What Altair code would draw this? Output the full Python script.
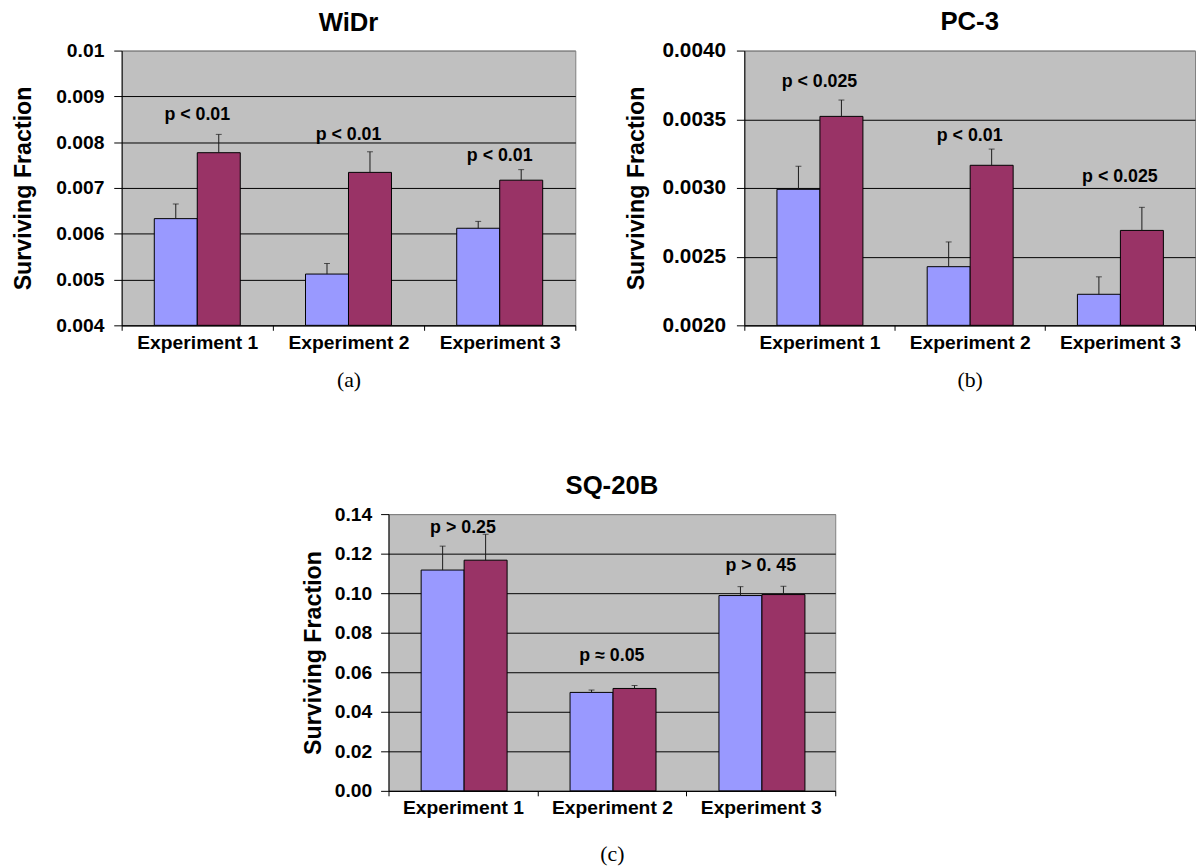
import altair as alt
import pandas as pd

# ---------------- data ----------------
experiments = ["Experiment 1", "Experiment 2", "Experiment 3"]
groups = ["Series 1", "Series 2"]
bar_colors = ["#9999FF", "#993366"]

# WiDr (a)
widr_s1 = [0.00633, 0.00512, 0.00612]
widr_s1_err = [0.00032, 0.00023, 0.00015]
widr_s2 = [0.00777, 0.00734, 0.00717]
widr_s2_err = [0.00040, 0.00045, 0.00023]
widr_p = ["p < 0.01", "p < 0.01", "p < 0.01"]
widr_p_y = [0.00849, 0.00805, 0.00759]
widr_ticks = [0.004, 0.005, 0.006, 0.007, 0.008, 0.009, 0.01]

# PC-3 (b)
pc3_s1 = [0.00299, 0.002427, 0.002226]
pc3_s1_err = [0.000168, 0.000180, 0.000127]
pc3_s2 = [0.003521, 0.003165, 0.002691]
pc3_s2_err = [0.000119, 0.000118, 0.000168]
pc3_p = ["p < 0.025", "p < 0.01", "p < 0.025"]
pc3_p_y = [0.003734, 0.003345, 0.003046]
pc3_ticks = [0.0020, 0.0025, 0.0030, 0.0035, 0.0040]

# SQ-20B (c)
sq_s1 = [0.1117, 0.0498, 0.0988]
sq_s1_err = [0.0121, 0.0012, 0.0045]
sq_s2 = [0.1167, 0.0518, 0.0993]
sq_s2_err = [0.0131, 0.0015, 0.0042]
sq_p = ["p > 0.25", "p \u2248 0.05", "p > 0. 45"]
sq_p_y = [0.1305, 0.0655, 0.111]
sq_ticks = [0.00, 0.02, 0.04, 0.06, 0.08, 0.10, 0.12, 0.14]

SANS = "Liberation Sans"
SERIF = "Liberation Serif"


def build_df(s1, s1e, s2, s2e):
    rows = []
    for i, e in enumerate(experiments):
        rows.append({"exp": e, "grp": groups[0], "value": s1[i], "top": s1[i] + s1e[i]})
        rows.append({"exp": e, "grp": groups[1], "value": s2[i], "top": s2[i] + s2e[i]})
    return pd.DataFrame(rows)


def panel(title, sub, s1, s1e, s2, s2e, plabels, ply, ticks, fmt,
          width, height, ylabel_size, ylabel_pad, ytitle_pad, xtitle_pad):
    df = build_df(s1, s1e, s2, s2e)
    lab = pd.DataFrame({"exp": experiments, "label": plabels, "ly": ply})

    xaxis = alt.Axis(
        title=sub, labelAngle=0, tickBand="extent", ticks=True, tickSize=5,
        tickColor="black", domainColor="black", grid=False,
        labelFont=SANS, labelFontSize=19.5, labelFontWeight="bold",
        labelColor="black", labelPadding=3,
        titleFont=SERIF, titleFontSize=22, titleFontWeight="normal",
        titleColor="black", titlePadding=xtitle_pad,
    )
    xenc = alt.X("exp:N", sort=experiments,
                 scale=alt.Scale(paddingInner=0, paddingOuter=0), axis=xaxis)
    yscale = alt.Scale(domain=[ticks[0], ticks[-1]], nice=False, zero=False)
    yaxis = alt.Axis(
        title="Surviving Fraction", values=ticks, format=fmt,
        grid=True, gridWidth=1,
        gridColor={"condition": {"test": f"datum.value >= {ticks[-1]}", "value": "#808080"},
                   "value": "black"},
        domainColor="black", tickColor="black", tickSize=8,
        labelFont=SANS, labelFontSize=ylabel_size, labelFontWeight="bold",
        labelColor="black", labelPadding=ylabel_pad,
        titleFont=SANS, titleFontSize=23.5, titleFontWeight="bold",
        titleColor="black", titlePadding=ytitle_pad,
    )
    xoff = alt.XOffset("grp:N", sort=groups,
                       scale=alt.Scale(paddingInner=0, paddingOuter=0.759))

    base = alt.Chart(df)
    bars = base.mark_bar(stroke="black", strokeWidth=1).encode(
        x=xenc, xOffset=xoff,
        y=alt.Y("value:Q", scale=yscale, axis=yaxis),
        y2=alt.datum(ticks[0]),
        color=alt.Color("grp:N", scale=alt.Scale(domain=groups, range=bar_colors),
                        legend=None),
    )
    rules = base.mark_rule(color="#1a1a1a", strokeWidth=1).encode(
        x=xenc, xOffset=xoff,
        y=alt.Y("value:Q", scale=yscale, axis=yaxis),
        y2="top:Q",
    )
    caps = base.mark_tick(color="#1a1a1a", thickness=1, size=6,
                          orient="horizontal").encode(
        x=xenc, xOffset=xoff,
        y=alt.Y("top:Q", scale=yscale, axis=yaxis),
    )
    texts = alt.Chart(lab).mark_text(
        font=SANS, fontSize=18, fontWeight="bold", color="black",
        align="center", baseline="alphabetic",
    ).encode(
        x=xenc,
        y=alt.Y("ly:Q", scale=yscale, axis=yaxis),
        text="label:N",
    )
    return alt.layer(bars, rules, caps, texts).properties(
        width=width, height=height,
        title=alt.TitleParams(text=title, font=SANS, fontSize=26,
                              fontWeight="bold", color="black",
                              baseline="alphabetic", offset=-16),
        view=alt.ViewBackground(fill="#C0C0C0", stroke="#808080", strokeWidth=1),
    )


a = panel("WiDr", "(a)", widr_s1, widr_s1_err, widr_s2, widr_s2_err,
          widr_p, widr_p_y, widr_ticks, ".3~f", 459, 278, 19.5, 10, 20, 18)
b = panel("PC-3", "(b)", pc3_s1, pc3_s1_err, pc3_s2, pc3_s2_err,
          pc3_p, pc3_p_y, pc3_ticks, ".4f", 456, 278, 21, 11, 14, 18)
c = panel("SQ-20B", "(c)", sq_s1, sq_s1_err, sq_s2, sq_s2_err,
          sq_p, sq_p_y, sq_ticks, ".2f", 452, 280, 19.5, 9, 9, 27)

spacer = alt.Chart(pd.DataFrame({"k": [0]})).mark_point(opacity=0).encode(
    x=alt.value(0), y=alt.value(0)
).properties(width=180, height=10,
             view=alt.ViewBackground(fill="transparent", stroke="transparent"))

row1 = alt.hconcat(a, b, spacing=171, bounds="flush")
row2 = alt.hconcat(spacer, c, spacing=0, bounds="full")

chart = alt.vconcat(row1, row2, spacing=83, bounds="full").properties(
    padding={"left": 3, "top": -5, "right": 0, "bottom": 0},
    background="white",
)

chart.save("out.html", embed_options={"renderer": "svg", "actions": False})
